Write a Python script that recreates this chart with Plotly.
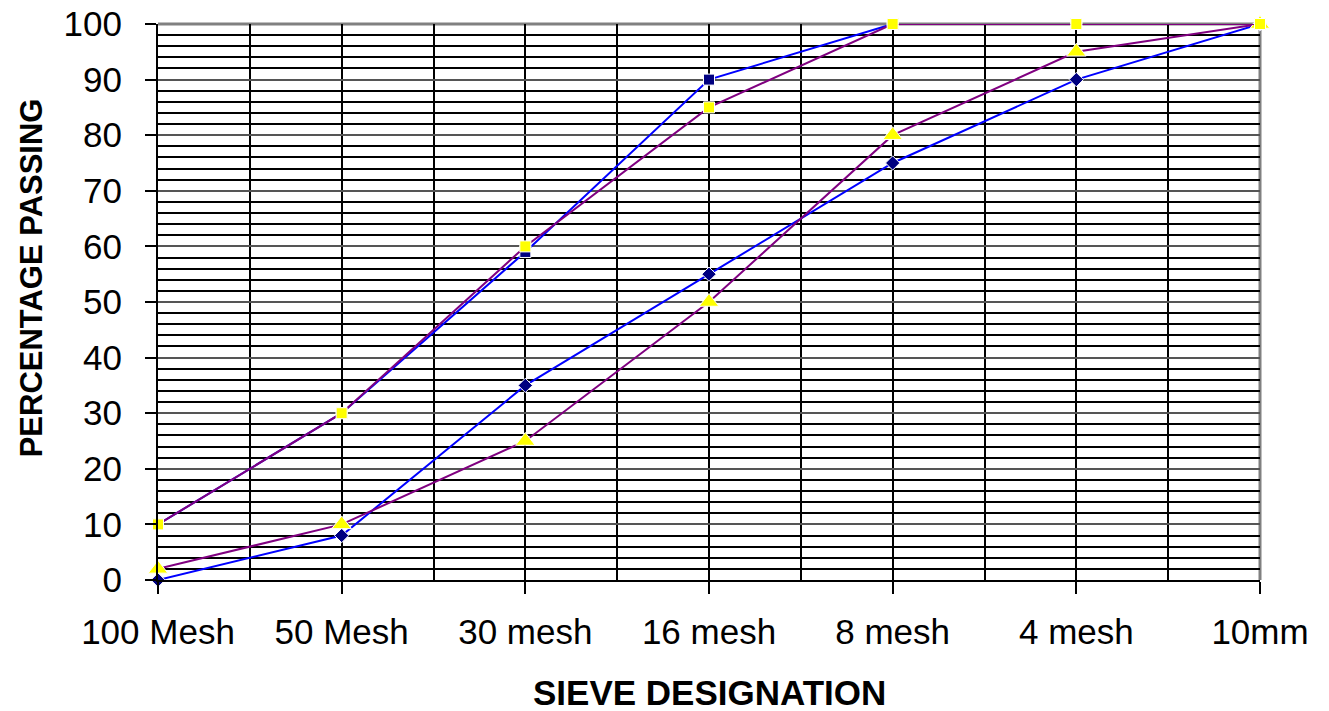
import plotly.graph_objects as go

# Sieve designations along the x axis
sieves = ["100 Mesh", "50 Mesh", "30 mesh", "16 mesh", "8 mesh", "4 mesh", "10mm"]

# Percentage passing for each grading curve
curve_a = [0, 8, 35, 55, 75, 90, 100]       # blue line, navy diamonds
curve_b = [10, 30, 59, 90, 100, 100, 100]   # blue line, navy squares
curve_c = [10, 30, 60, 85, 100, 100, 100]   # purple line, yellow squares
curve_d = [2, 10, 25, 50, 80, 95, 100]      # purple line, yellow triangles

y_ticks = list(range(0, 101, 10))

xpos = list(range(len(sieves)))

BLUE = "#0000FF"
NAVY = "#000080"
PURPLE = "#800080"
YELLOW = "#FFFF00"

fig = go.Figure()


def add_curve(values, line_color, marker_color, symbol, size):
    fig.add_trace(go.Scatter(
        x=xpos, y=values, mode="lines+markers",
        line=dict(color=line_color, width=2),
        marker=dict(symbol=symbol, size=size, color=marker_color,
                    line=dict(color="white", width=1)),
        cliponaxis=False, showlegend=False,
    ))


add_curve(curve_a, BLUE, NAVY, "diamond", 11)
add_curve(curve_d, PURPLE, YELLOW, "triangle-up", 17)
add_curve(curve_b, BLUE, NAVY, "square", 11)
add_curve(curve_c, PURPLE, YELLOW, "square", 11)

FONT = "Liberation Sans, Arial, sans-serif"

fig.update_layout(
    width=1329, height=711,
    margin=dict(l=158, r=69, t=24, b=131, autoexpand=False),
    paper_bgcolor="white", plot_bgcolor="white",
    font=dict(family=FONT, size=35, color="black"),
    xaxis=dict(
        range=[0, len(sieves) - 1],
        tickmode="array", tickvals=xpos, ticktext=sieves,
        ticks="outside", ticklen=12, tickwidth=1.5, tickcolor="black",
        ticklabelstandoff=8,
        showline=True, linecolor="black", linewidth=2,
        showgrid=True, gridcolor="black", gridwidth=1.5,
        minor=dict(tickmode="array",
                   tickvals=[i + 0.5 for i in xpos[:-1]],
                   showgrid=True, gridcolor="black", gridwidth=1.5, ticks=""),
        zeroline=False, fixedrange=True, automargin=False,
    ),
    yaxis=dict(
        range=[0, 100],
        tickmode="array", tickvals=y_ticks,
        ticks="outside", ticklen=11, tickwidth=1.5, tickcolor="black",
        ticklabelstandoff=16,
        showline=True, linecolor="black", linewidth=2,
        showgrid=True, gridcolor="#555555", gridwidth=1.5,
        minor=dict(dtick=2, tick0=0, showgrid=True, gridcolor="black",
                   gridwidth=1.5, ticks=""),
        zeroline=False, fixedrange=True, automargin=False,
    ),
    shapes=[
        dict(type="line", xref="paper", yref="paper", x0=0, x1=1, y0=1, y1=1,
             line=dict(color="#808080", width=3), layer="below"),
        dict(type="line", xref="paper", yref="paper", x0=1, x1=1, y0=0, y1=1,
             line=dict(color="#808080", width=3), layer="below"),
    ],
    annotations=[
        dict(text="<b>SIEVE DESIGNATION</b>", xref="paper", yref="paper",
             x=0.5, y=-0.203, xanchor="center", yanchor="middle",
             showarrow=False, font=dict(size=35, family=FONT)),
        dict(text="<b>PERCENTAGE PASSING</b>", xref="paper", yref="paper",
             x=-0.115, y=0.543, xanchor="center", yanchor="middle",
             textangle=-90, showarrow=False, font=dict(size=31, family=FONT)),
    ],
)

fig.write_html("out.html")
